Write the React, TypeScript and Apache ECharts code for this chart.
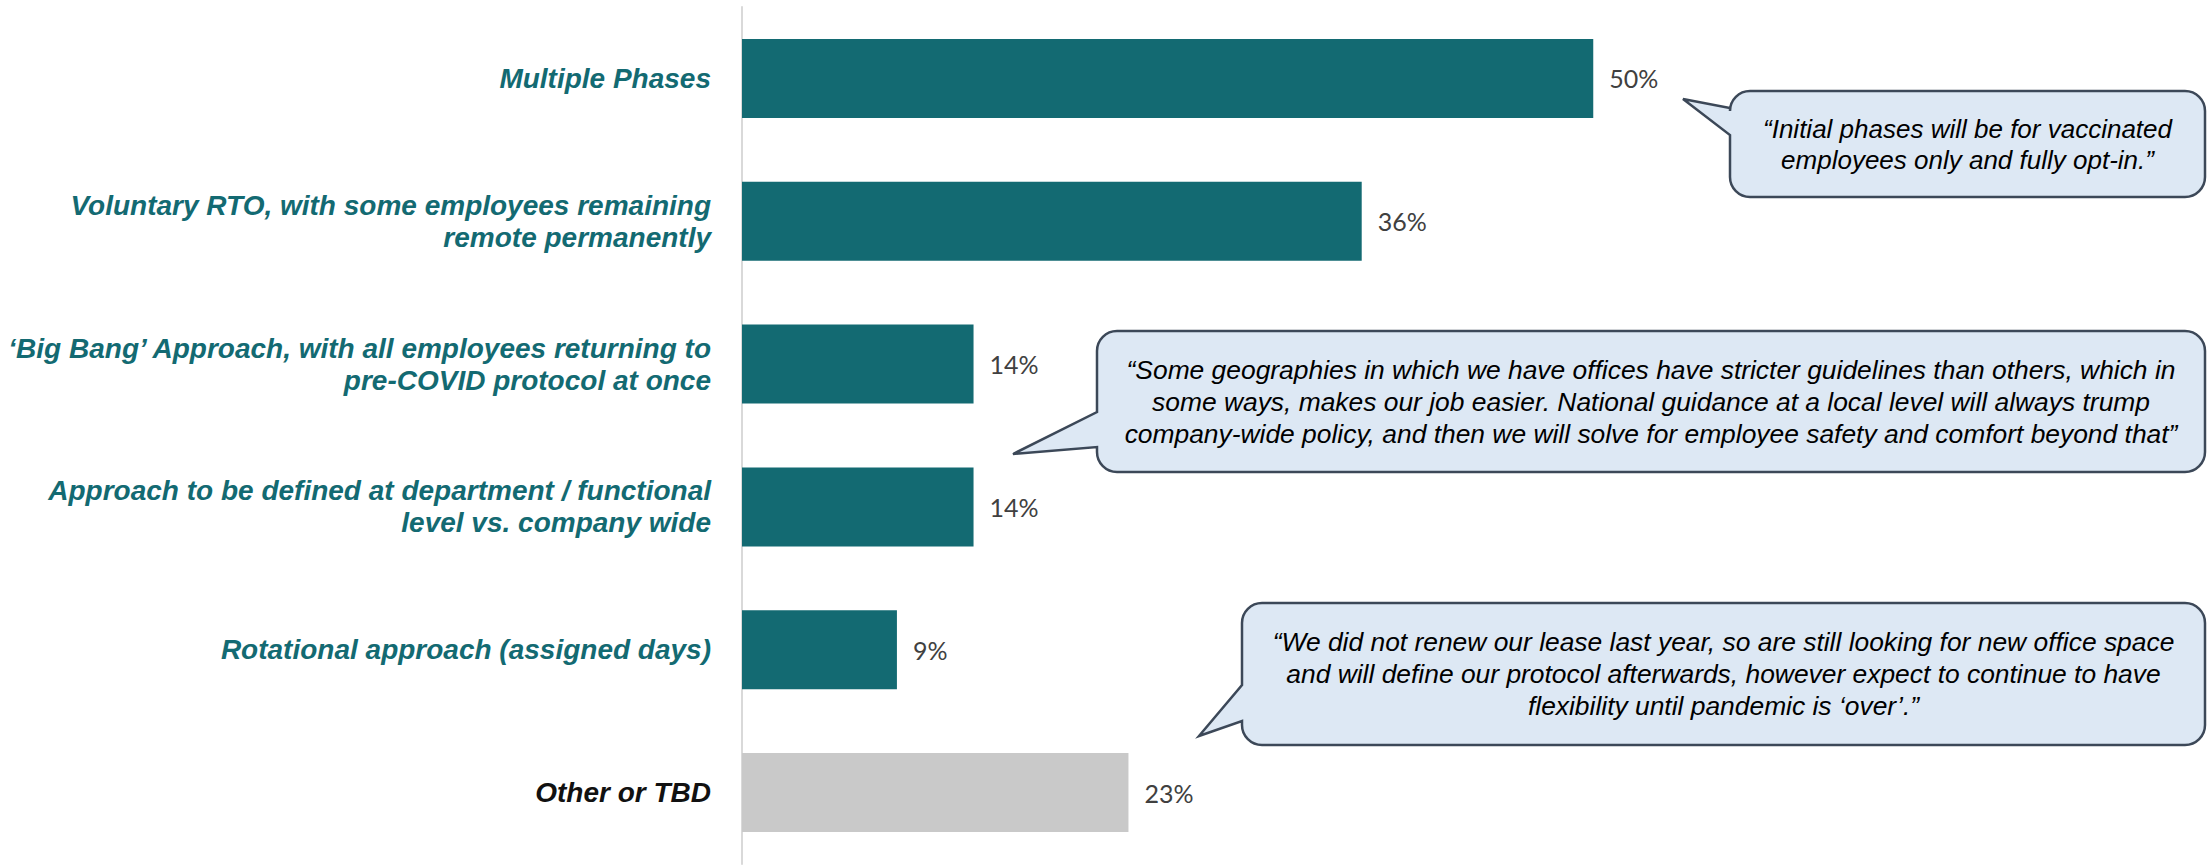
import React, { useEffect, useRef } from "react";
import * as echarts from "echarts";

const categories: string[] = [
  "Multiple Phases",
  "Voluntary RTO, with some employees remaining\nremote permanently",
  "\u2018Big Bang\u2019 Approach, with all employees returning to\npre-COVID protocol at once",
  "Approach to be defined at department / functional\nlevel vs. company wide",
  "Rotational approach (assigned days)",
  "Other or TBD",
];
const values: number[] = [50, 36.4, 13.6, 13.6, 9.1, 22.7];
const barColors: string[] = ["#136a72", "#136a72", "#136a72", "#136a72", "#136a72", "#c9c9c9"];
const labelColors: string[] = ["#136a72", "#136a72", "#136a72", "#136a72", "#136a72", "#111111"];

const quotes: string[] = [
  "\u201cInitial phases will be for vaccinated\nemployees only and fully opt-in.\u201d",
  "\u201cSome geographies in which we have offices have stricter guidelines than others, which in\nsome ways, makes our job easier. National guidance at a local level will always trump\ncompany-wide policy, and then we will solve for employee safety and comfort beyond that\u201d",
  "\u201cWe did not renew our lease last year, so are still looking for new office space\nand will define our protocol afterwards, however expect to continue to have\nflexibility until pandemic is \u2018over\u2019.\u201d",
];

// callout geometry: [left, top, right, bottom, tailTopY, tailBottomY, tipX, tipY, lineHeight, fontSize]
const calloutBoxes: number[][] = [
  [1730, 91, 2205, 197, 108, 135, 1683, 99, 31, 26],
  [1097, 331, 2205, 472, 412, 447, 1013, 454, 32, 26.4],
  [1242, 603, 2205, 745, 685, 721, 1199, 736, 32, 26.4],
];

function calloutPath(b: number[]): string {
  const [L, T, R, B, ty, by, tx, tyy] = b;
  const r = 20;
  return [
    `M ${L + r} ${T}`,
    `L ${R - r} ${T}`,
    `A ${r} ${r} 0 0 1 ${R} ${T + r}`,
    `L ${R} ${B - r}`,
    `A ${r} ${r} 0 0 1 ${R - r} ${B}`,
    `L ${L + r} ${B}`,
    `A ${r} ${r} 0 0 1 ${L} ${B - r}`,
    `L ${L} ${by}`,
    `L ${tx} ${tyy}`,
    `L ${L} ${ty}`,
    `L ${L} ${T + r}`,
    `A ${r} ${r} 0 0 1 ${L + r} ${T}`,
    "Z",
  ].join(" ");
}

export default function App() {
  const ref = useRef<HTMLDivElement>(null);
  useEffect(() => {
    if (!ref.current) return;
    calloutBoxes.forEach((b, i) => {
      echarts.graphic.registerShape("callout" + i, echarts.graphic.extendPath(calloutPath(b), {}));
    });
    const chart = echarts.init(ref.current, null, { renderer: "svg" });
    const graphics: any[] = [];
    calloutBoxes.forEach((b, i) => {
      graphics.push({
        type: "callout" + i,
        x: 0,
        y: 0,
        silent: true,
        style: { fill: "#dde8f4", stroke: "#3c4858", lineWidth: 2.5 },
      });
      graphics.push({
        type: "text",
        x: (b[0] + b[2]) / 2,
        y: (b[1] + b[3]) / 2,
        silent: true,
        style: {
          text: quotes[i],
          fill: "#000000",
          font: `italic ${b[9]}px 'Liberation Sans', Arial, sans-serif`,
          textAlign: "center",
          textVerticalAlign: "middle",
          lineHeight: b[8],
        },
      });
    });
    chart.setOption({
      animation: false,
      backgroundColor: "#ffffff",
      grid: { left: 742, right: 104, top: 7, bottom: 1, containLabel: false },
      xAxis: {
        type: "value",
        min: 0,
        max: 80,
        show: false,
      },
      yAxis: {
        type: "category",
        inverse: true,
        data: categories.map((c, i) => ({ value: c, textStyle: { color: labelColors[i] } })),
        axisLine: { show: true, lineStyle: { color: "#d9d9d9", width: 2 } },
        axisTick: { show: false },
        axisLabel: {
          margin: 31,
          fontFamily: "'Liberation Sans', Arial, sans-serif",
          fontStyle: "italic",
          fontWeight: "bold",
          fontSize: 28,
          lineHeight: 32,
          align: "right",
        },
      },
      series: [
        {
          type: "bar",
          barWidth: 79,
          data: values.map((v, i) => ({ value: v, itemStyle: { color: barColors[i] } })),
          label: {
            show: true,
            position: "right",
            distance: 16,
            formatter: (p: any) => Math.round(p.value) + "%",
            fontFamily: "Lato, 'Open Sans', sans-serif",
            fontSize: 25,
            color: "#404040",
          },
        },
      ],
      graphic: graphics,
    });
    return () => chart.dispose();
  }, []);
  return (
    <div
      ref={ref}
      style={{ position: "absolute", left: 0, top: 0, width: 2208, height: 865 }}
    />
  );
}
